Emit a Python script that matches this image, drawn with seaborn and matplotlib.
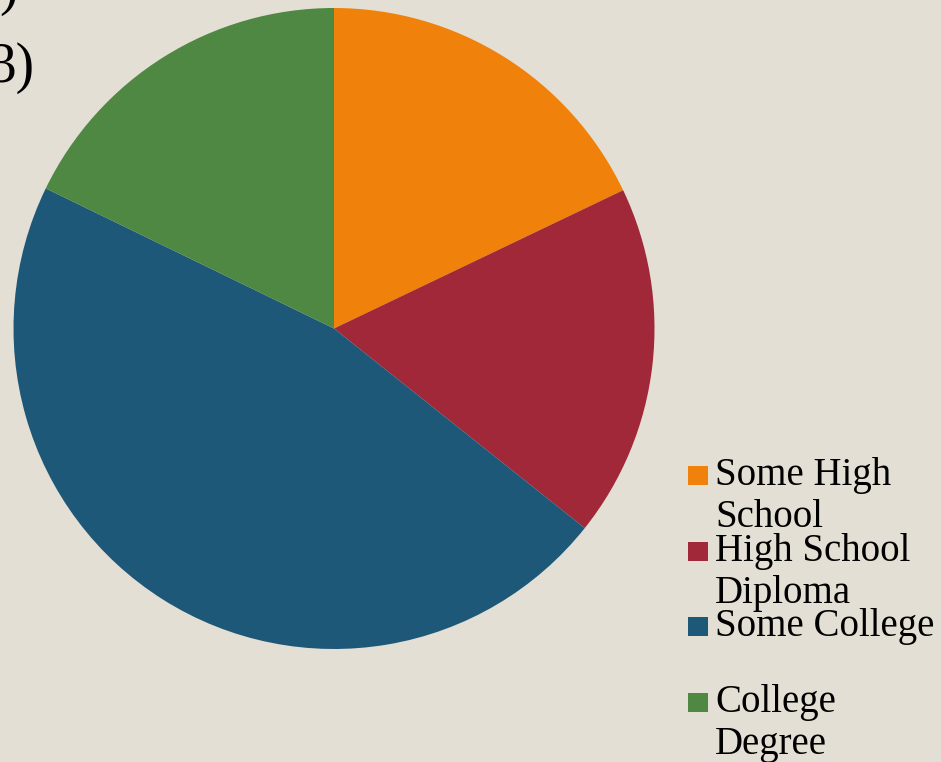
import numpy as np
import pandas as pd
import seaborn as sns
import matplotlib.pyplot as plt
from matplotlib.patches import Rectangle

# education levels and their shares
levels = ['Some High\nSchool', 'High School\nDiploma', 'Some College', 'College\nDegree']
shares = [17.9, 17.8, 46.5, 17.8]
colors = ['#F0820C', '#A02838', '#1E5879', '#4E8843']

bg = '#E4DFD4'
sns.set_theme(style='white', rc={'figure.facecolor': bg, 'axes.facecolor': bg})
plt.rcParams['font.family'] = ['Liberation Serif', 'DejaVu Serif']

W, H = 941, 762
fig = plt.figure(figsize=(W / 100, H / 100), dpi=100)
ax = fig.add_axes([13 / W, 113 / H, 642 / W, 641 / H])

wedges, _ = ax.pie(shares, colors=colors, startangle=90, counterclock=False,
                   radius=1, wedgeprops={'linewidth': 0})
ax.set_xlim(-1, 1)
ax.set_ylim(-1, 1)
ax.set_aspect('equal')
ax.axis('off')

# title, mostly cut off at the top-left edge
fig.text(18 / W, 1 - 4 / H, ')', ha='right', va='baseline', fontsize=40, color='black')
fig.text(34 / W, 1 - 82 / H, '3)', ha='right', va='baseline', fontsize=40, color='black')

# legend: square swatch next to the first line of each label
for i, (w, lab) in enumerate(zip(wedges, levels)):
    base = 485 + i * 75.7
    fig.patches.append(Rectangle((688 / W, 1 - base / H), 20 / W, 19 / H,
                                 transform=fig.transFigure, facecolor=w.get_facecolor(),
                                 edgecolor='none'))
    for j, line in enumerate(lab.split('\n')):
        fig.text(715 / W, 1 - (base + j * 42) / H, line, ha='left', va='baseline',
                 fontsize=28, color='black')

fig.savefig('out.png', dpi=100, facecolor=bg)
